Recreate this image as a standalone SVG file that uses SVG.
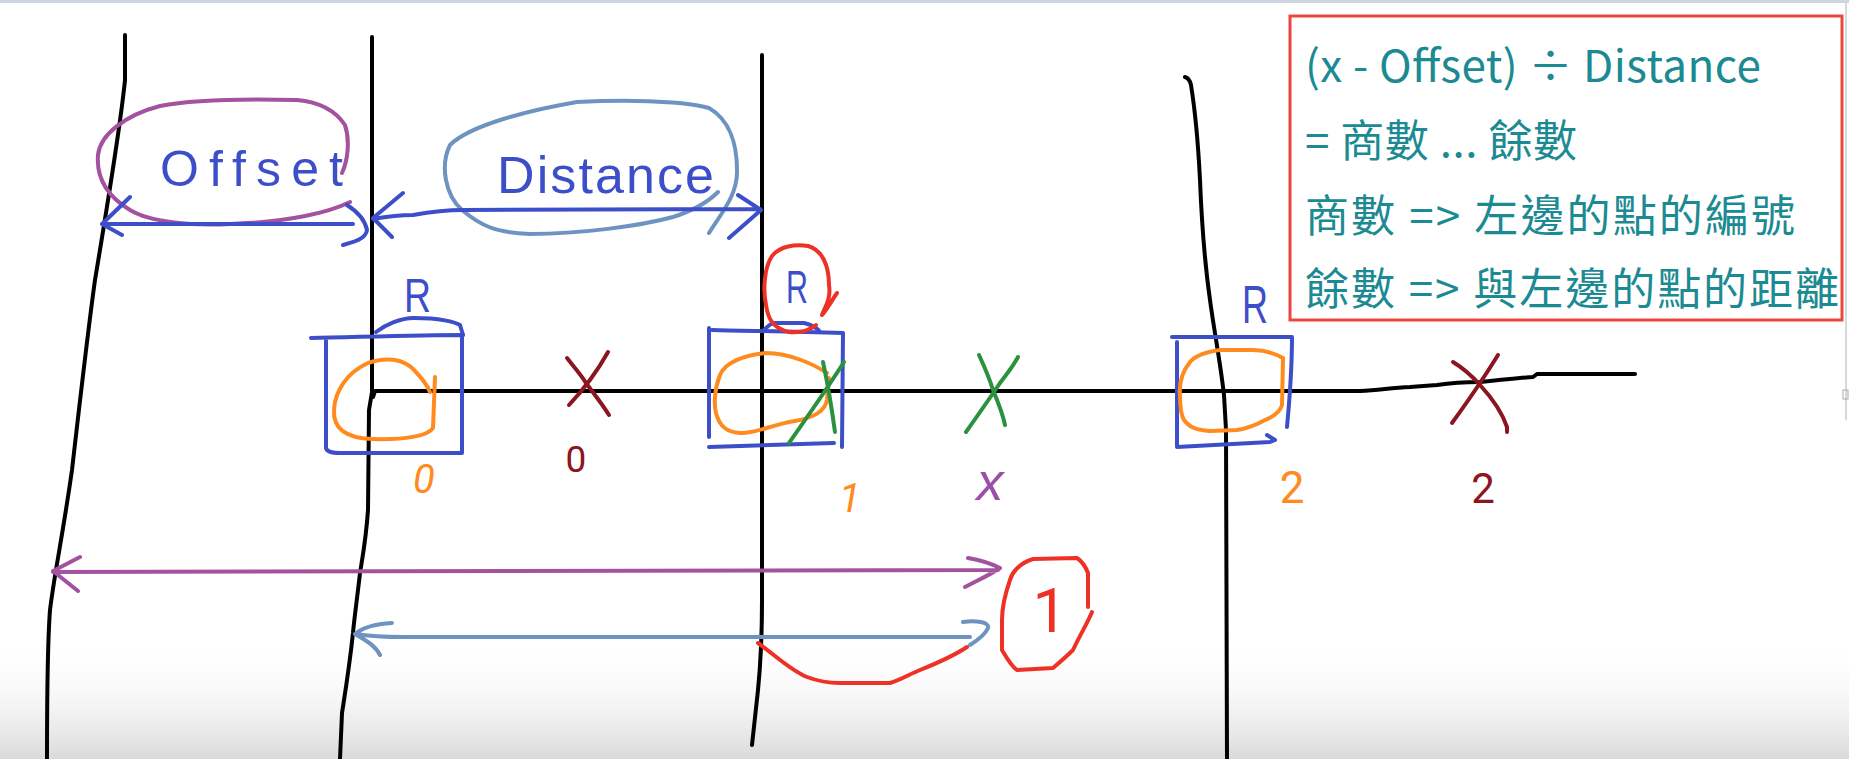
<svg xmlns="http://www.w3.org/2000/svg" width="1849" height="759" viewBox="0 0 1849 759">
<defs>
<style>
.s{fill:none;stroke-linecap:round;stroke-linejoin:round;stroke-width:4}
.k{stroke:#000}
.b{stroke:#3d4fc8}
.p{stroke:#a3529f}
.g{stroke:#6f93c0}
.o{stroke:#ff8a1e}
.r{stroke:#ee3124}
.d{stroke:#8b1520}
.gr{stroke:#2a913e}
.hand{font-family:"Liberation Sans",Arial,sans-serif}
.dig{font-family:Roboto,"Liberation Sans",sans-serif}
.info{font-family:"Noto Sans CJK TC","Noto Sans",sans-serif;font-size:44px;fill:#1b8a93}
</style>
<linearGradient id="fade" x1="0" y1="0" x2="0" y2="1">
<stop offset="0" stop-color="#ffffff" stop-opacity="0"/>
<stop offset="1" stop-color="#dadada" stop-opacity="1"/>
</linearGradient>
<clipPath id="boxclip"><rect x="1290" y="16" width="550" height="304"/></clipPath>
</defs>
<rect width="1849" height="759" fill="#fff"/>
<rect x="0" y="0" width="1849" height="3" fill="#cdd5df"/>
<rect x="0" y="640" width="1849" height="119" fill="url(#fade)"/>
<line x1="1846" y1="3" x2="1846" y2="420" stroke="#d8d8d8" stroke-width="2"/>
<rect x="1843" y="390" width="5" height="9" fill="none" stroke="#aaa" stroke-width="1"/>

<g id="grid-lines">
<path class="s k" d="M125,35 L125,80 C120,130 105,220 95,280 C88,330 80,400 72,470 C62,540 55,570 50,610 C47,650 47,700 47,759"/>
<path class="s k" d="M372,37 L372,392 L369,410 L368,510 C366,540 362,560 360,573 C357,600 354,620 353,633 C349,670 344,700 342,713 L340,759"/>
<path class="s k" d="M762,55 L762,600 C762,640 760,670 758,690 L752,745"/>
<path class="s k" d="M1185,77 C1188,78 1190,80 1191,85 C1195,110 1198,140 1200,180 C1202,230 1205,265 1210,300 C1214,330 1220,360 1224,395 L1226,430 L1227,759"/>
<path class="s k" d="M373,397 L375,391 L1360,391 C1380,390 1390,388 1410,387 L1437,385 C1450,383 1465,382 1480,382 C1500,380 1520,378 1533,377 L1537,374 L1635,374"/>
</g>

<g id="offset-label">
<path class="s p" d="M350,202 C330,212 290,222 230,224 C190,226 150,222 130,210 C110,198 96,180 98,155 C100,135 125,115 160,106 C200,98 260,99 297,100 C320,102 335,110 345,125 C350,140 348,160 342,173"/>
<text class="hand" x="160" y="186" font-size="50" fill="#3d4fc8" textLength="183">Offset</text>
</g>

<g id="distance-label">
<path class="s g" d="M709,233 C720,215 738,195 737,170 C737,145 730,120 709,108 C680,100 620,100 577,102 C530,110 470,125 450,145 C440,165 445,195 462,210 C480,225 495,233 530,234 C580,234 640,226 673,217 C695,210 710,200 718,192"/>
<text class="hand" x="497" y="193" font-size="52" fill="#3d4fc8" textLength="217">Distance</text>
</g>

<g id="connectors">
<path class="s b" d="M102,224 L353,224 M130,197 L102,224 L122,235 M347,205 C358,212 365,220 367,230 C366,236 362,240 343,245"/>
<path class="s b" d="M373,219 C390,216 400,215 413,215 C430,212 445,210 463,210 L760,209 M403,193 L373,218 L392,237 M738,195 L761,210 L729,238"/>
<path class="s p" d="M53,572 L998,570 M80,557 L53,571 L78,591 M968,558 C980,560 992,564 1000,568 C990,575 978,580 965,587"/>
<path class="s g" d="M355,634 C380,638 400,637 420,637 L970,637 M392,623 C375,624 362,628 355,634 C365,640 375,645 380,655 M963,622 C975,620 990,622 988,628 C985,635 978,640 970,645"/>
<path class="s r" d="M758,643 C775,655 790,670 807,677 C820,682 830,683 840,683 L890,683 C900,680 910,674 920,670 C940,662 955,655 967,647"/>
</g>

<g id="point-0">
<path class="s b" d="M311,338 C360,337 420,335 463,335 M326,340 L326,448 Q327,453 340,453 L462,453 M462,335 L462,453"/>
<path class="s b" d="M376,332 C385,325 400,318 414,318 C440,318 455,322 460,325 L463,335"/>
<text class="hand" x="404" y="312" font-size="48" fill="#3d4fc8" textLength="27" lengthAdjust="spacingAndGlyphs">R</text>
<path class="s o" d="M435,377 L433,428 C428,436 405,440 372,439 C345,438 333,428 334,410 C335,390 348,372 368,363 C385,357 403,358 414,370 C422,378 427,385 430,392"/>
<text class="dig" x="424" y="493" font-size="40" font-style="italic" fill="#ff8a1e" text-anchor="middle">0</text>
</g>

<g id="mark-0">
<path class="s d" d="M567,358 C575,368 582,376 586,383 C595,395 603,405 609,415 M608,352 C598,370 585,388 569,405"/>
<text class="dig" x="576" y="472" font-size="37" fill="#8b1520" text-anchor="middle">0</text>
</g>

<g id="point-1">
<path class="s b" d="M709,328 L709,437 M712,330 C740,331 780,331 843,333 L842,447 M709,447 L834,443"/>
<path class="s b" d="M764,330 C768,326 772,323 774,323 L804,323 C812,325 818,329 820,332"/>
<path class="s r" d="M822,315 C826,305 831,298 829,285 C829,265 822,250 808,246 C795,244 780,246 772,256 C764,268 763,290 766,305 C768,318 772,328 789,332 C800,333 810,330 816,325 M837,293 C832,300 828,308 822,315"/>
<text class="hand" x="786" y="303" font-size="46" fill="#3d4fc8" textLength="22" lengthAdjust="spacingAndGlyphs">R</text>
<path class="s o" d="M827,373 C815,365 790,353 766,353 C745,355 725,362 720,375 C714,390 714,405 716,413 C720,428 728,432 740,433 C755,434 770,425 795,421 C812,418 825,412 827,400 L829,378"/>
<path class="s gr" d="M789,443 C805,420 825,392 844,362 M823,362 C828,385 832,410 835,432"/>
<text class="dig" x="850" y="512" font-size="40" font-style="italic" fill="#ff8a1e" text-anchor="middle">1</text>
</g>

<g id="point-x">
<path class="s gr" d="M979,355 C985,368 990,380 993,390 C998,402 1003,415 1005,425 M1018,357 C1012,368 1006,375 1000,383 C990,398 978,415 966,432"/>
<text class="hand" x="990" y="500" font-size="54" font-style="italic" fill="#9b4fa8" text-anchor="middle">x</text>
</g>

<g id="point-2">
<path class="s b" d="M1172,337 L1292,337 C1292,360 1290,395 1287,427 M1177,342 L1177,447 L1270,442 L1275,440 L1267,435"/>
<text class="hand" x="1242" y="323" font-size="54" fill="#3d4fc8" textLength="26" lengthAdjust="spacingAndGlyphs">R</text>
<path class="s o" d="M1283,358 C1272,352 1262,350 1253,350 L1220,350 C1205,352 1195,356 1190,362 C1182,372 1179,383 1180,395 C1180,405 1181,415 1184,420 C1190,428 1197,430 1210,431 L1237,430 C1250,428 1258,424 1265,420 C1275,416 1280,412 1282,405 L1283,358"/>
<text class="dig" x="1292" y="503" font-size="44" fill="#ff8a1e" text-anchor="middle">2</text>
</g>

<g id="mark-2">
<path class="s d" d="M1453,362 C1463,368 1472,376 1480,385 C1492,398 1502,412 1507,427 L1507,432 M1498,355 C1490,368 1486,374 1480,383 C1470,398 1460,412 1452,423"/>
<text class="dig" x="1483" y="503" font-size="42" fill="#8b1520" text-anchor="middle">2</text>
</g>

<g id="answer-1">
<path class="s r" d="M1088,607 L1088,573 C1085,565 1080,560 1077,558 L1033,559 C1020,563 1012,572 1010,580 C1003,600 1002,610 1002,620 L1002,650 C1008,660 1012,667 1017,670 L1053,668 C1060,662 1068,655 1073,650 C1080,635 1088,622 1092,612"/>
<text class="dig" x="1050" y="632" font-size="62" fill="#ee3124" text-anchor="middle">1</text>
</g>

<g id="formula-box">
<rect x="1290" y="16" width="552" height="304" fill="#fff" stroke="#e8473f" stroke-width="3"/>
<g clip-path="url(#boxclip)">
<text class="info" x="1305" y="82" textLength="456">(x - Offset) ÷ Distance</text>
<text class="info" x="1305" y="157" textLength="272">= 商數 ... 餘數</text>
<text class="info" x="1305" y="232" textLength="490">商數 =&gt; 左邊的點的編號</text>
<text class="info" x="1305" y="305" textLength="534">餘數 =&gt; 與左邊的點的距離</text>
</g>
</g>
</svg>
